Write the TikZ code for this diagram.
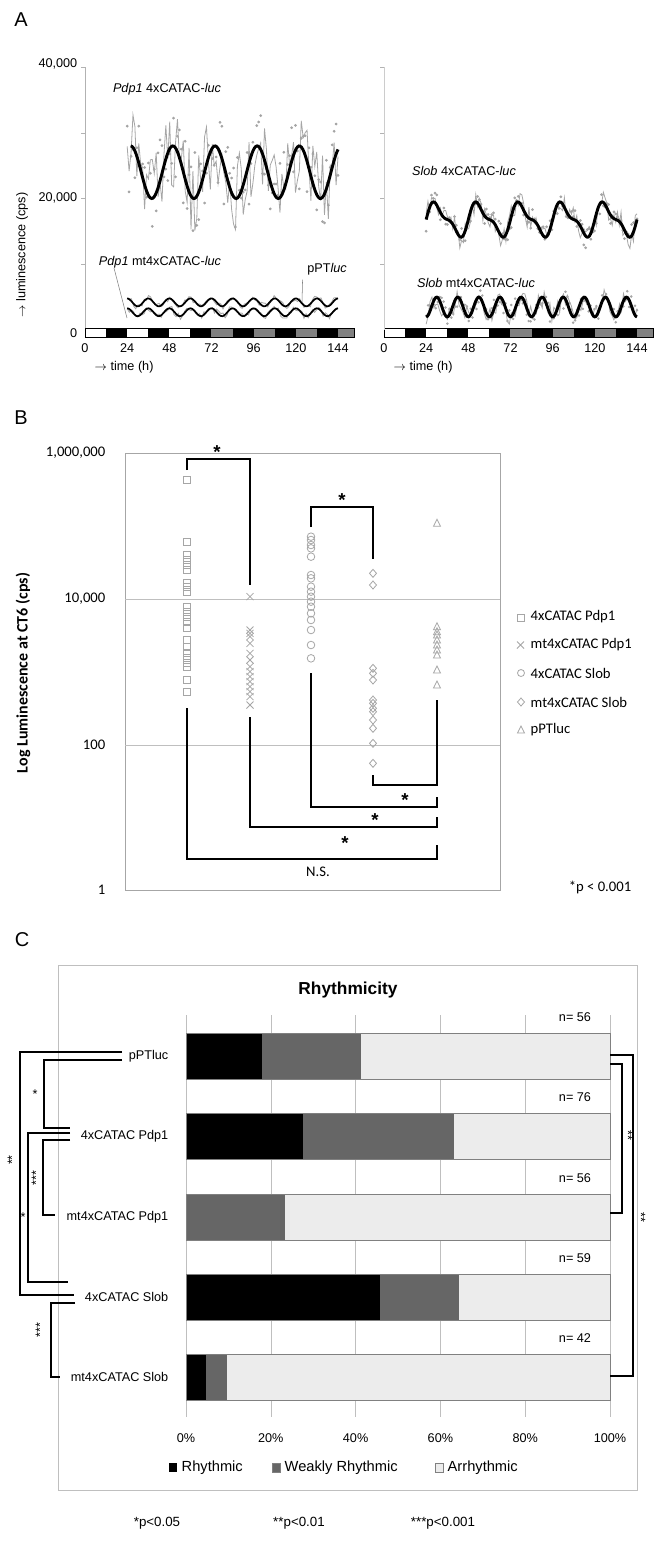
\documentclass[tikz,border=0pt]{standalone}
\usepackage{fontspec}
\setmainfont{Liberation Sans}
\newfontfamily\calib{Carlito}
\begin{document}
\begin{tikzpicture}[x=0.75pt,y=-0.75pt,
  lab/.style={font=\fontsize{15}{17}\selectfont},
  tx/.style={font=\fontsize{9.5}{11}\selectfont},
  fitc/.style={line width=2.2pt,black},
  dat/.style={gray!70,line width=0.6pt},
  br/.style={line width=1.6pt,black},
  bt/.style={font=\calib\fontsize{11}{13}\selectfont},
  ct/.style={font=\fontsize{9.5}{11}\selectfont},
  ]
\useasboundingbox (0,0) rectangle (661,1543);
\fill[white] (0,0) rectangle (661,1543);
\pgfmathsetseed{7}
% ================= A
\node[lab] (A) at (21,20) {A};
\draw[gray!60] (85,67) -- (85,330);
\foreach \y in {67,133,198,264} \draw[gray!60] (81,\y) -- (85,\y);
\node[tx,anchor=east] (y40) at (82,64) {40,000};
\node[tx,anchor=east] (y20) at (82,198) {20,000};
\node[tx,anchor=east] (y0) at (82,333) {0};
\node[tx,rotate=90] (yl) at (22,255) {$\rightarrow$ luminescence (cps)};
\foreach \X in {85,384}{
 \foreach \i/\c in {0/white,1/black,2/white,3/black,4/white,5/black,6/gray,7/black,8/gray,9/black,10/gray,11/black,12/gray}{
   \pgfmathsetmacro\xa{\X+\i*21.08}\pgfmathsetmacro\xb{min(\X+(\i+1)*21.08,\X+269)}
   \fill[\c] (\xa,328) rectangle (\xb,337);}
 \draw (\X,328) rectangle (\X+269,337);
 \foreach \t in {0,24,...,144}{\pgfmathsetmacro\xx{\X+1.757*\t}\node[tx] at (\xx,348) {\t};}
 \node[tx,anchor=west] at (\X+5,367) {$\rightarrow$ time (h)};
}
\draw[gray!40] (384,67) -- (384,330);
\foreach \y in {67,133,198,264} \draw[gray!60] (380,\y) -- (384,\y);
% Pdp1 4x
\draw[dat,mark=*,mark size=0.7pt,mark options={fill=gray}] plot[domain=24:144,samples=110]
 ({85+1.757*\x},{330-6.575*(24+3*cos(15*(\x-26))+rand*6)});
\draw[fitc] plot[domain=26:144,samples=160] ({85+1.757*\x},{330-6.575*(24+4*cos(15*(\x-26)))});
% mt curves
\draw[dat] plot[domain=24:144,samples=100] ({85+1.757*\x},{330-6.575*(4.2+0.6*sin(30*(\x-21))+rand*0.5)});
\draw[dat] plot[domain=24:144,samples=100] ({85+1.757*\x},{330-6.575*(2.7+0.6*sin(30*(\x-21))+rand*0.5)});
\draw[line width=1.3pt] plot[domain=24:144,samples=160] ({85+1.757*\x},{330-6.575*(4.2+0.6*sin(30*(\x-21)))});
\draw[line width=1.3pt] plot[domain=24:144,samples=160] ({85+1.757*\x},{330-6.575*(2.7+0.6*sin(30*(\x-21)))});
\node[tx] (t1) at (167,89) {\textit{Pdp1} 4xCATAC-\textit{luc}};
\node[tx] (t2) at (160,262) {\textit{Pdp1} mt4xCATAC-\textit{luc}};
\node[tx] (t3) at (327,269) {pPT\textit{luc}};
\coordinate (p2) at (127,318); \coordinate (p3) at (302,302);
\draw[gray,thin] (114,268) -- (p2);
\draw[gray,thin] (t3.south west) -- (p3);
% Slob 4x
\draw[dat,mark=*,mark size=0.7pt,mark options={fill=gray}] plot[domain=24:144,samples=120]
 ({384+1.757*\x},{330-6.575*(16.8+2.2*sin(15*(\x-24))+0.9*sin(30*(\x-24))+rand*1.8)});
\draw[fitc] plot[domain=24:144,samples=200] ({384+1.757*\x},{330-6.575*(16.8+2.2*sin(15*(\x-24))+0.9*sin(30*(\x-24)))});
% Slob mt
\draw[dat,mark=*,mark size=0.6pt,mark options={fill=gray}] plot[domain=24:144,samples=110]
 ({384+1.757*\x},{330-6.575*(3.5+1.2*sin(30*(\x-27))+rand*1.5)});
\draw[fitc] plot[domain=24:144,samples=200] ({384+1.757*\x},{330-6.575*(3.5+1.5*sin(30*(\x-27)))});
\node[tx] (t4) at (464,171) {\textit{Slob} 4xCATAC-\textit{luc}};
\node[tx] (t5) at (476,283) {\textit{Slob} mt4xCATAC-\textit{luc}};
% ================= B
\node[lab] (B) at (21,418) {B};
\draw[gray!70] (125,453) rectangle (500,890);
\draw[gray!50] (125,599) -- (500,599);
\draw[gray!50] (125,745) -- (500,745);
\node[bt,anchor=east] at (110,453) {1,000,000};
\node[bt,anchor=east] at (110,599) {10,000};
\node[bt,anchor=east] at (110,745) {100};
\node[bt,anchor=east] at (110,890) {1};
\node[font=\calib\bfseries\fontsize{12}{14}\selectfont,rotate=90] at (23,673) {Log Luminescence at CT6 (cps)};
\begin{scope}[gray!70,line width=0.6pt]
\foreach \p in {240,425,465,480,495,510,550,560,575,620,635,650,665,685,720,740,760,775,790,800,840,875}
  \draw (183.5,{\p/3+400-3.5}) rectangle ++(7,7);
\foreach \p in {590,690,700,710,730,760,780,800,815,830,845,860,875,890,915}
  \draw (246.5,{\p/3+400-3.5}) -- ++(7,7) (246.5,{\p/3+400+3.5}) -- ++(7,-7);
\foreach \p in {410,420,435,445,470,525,535,560,575,590,605,620,640,660,690,735,775}
  \draw (311,{\p/3+400}) circle (3.8);
\foreach \p in {520,555,805,820,840,900,910,925,935,960,985,1030,1090}
  \draw (373,{\p/3+400-4}) -- ++(3.5,4) -- ++(-3.5,4) -- ++(-3.5,-4) -- cycle;
\foreach \p in {370,680,695,705,720,735,750,765,810,855}
  \draw (437,{\p/3+400-4}) -- ++(3.5,7) -- ++(-7,0) -- cycle;
\end{scope}
\tikzset{st/.style={font=\bfseries\fontsize{14}{14}\selectfont}}
\draw[br] (187,470) -- (187,459) -- (250,459) -- (250,585);
\node[st] at (217,452) {*};
\draw[br] (311,527) -- (311,507) -- (373,507) -- (373,559);
\node[st] at (342,500) {*};
\draw[br] (373,775) -- (373,785) -- (437,785) -- (437,700);
\node[st] at (405,800) {*};
\draw[br] (311,673) -- (311,807) -- (437,807) -- (437,797);
\node[st] at (375,820) {*};
\draw[br] (250,717) -- (250,827) -- (437,827) -- (437,817);
\node[st] at (345,843) {*};
\draw[br] (187,708) -- (187,859) -- (437,859) -- (437,845);
\node[bt] at (318,872) {N.S.};
\node[bt] at (600,887) {*p < 0.001};
\begin{scope}[gray!70,line width=0.6pt]
\draw (517,614) rectangle ++(7,7);
\draw (517,641.5) -- ++(7,7) (517,648.5) -- ++(7,-7);
\draw (521,673) circle (3.5);
\draw (521,698) -- ++(3.5,4) -- ++(-3.5,4) -- ++(-3.5,-4) -- cycle;
\draw (521,726) -- ++(3.5,7) -- ++(-7,0) -- cycle;
\end{scope}
\node[bt,anchor=west] at (526,617) {4xCATAC Pdp1};
\node[bt,anchor=west] at (526,645) {mt4xCATAC Pdp1};
\node[bt,anchor=west] at (526,673) {4xCATAC Slob};
\node[bt,anchor=west] at (526,702) {mt4xCATAC Slob};
\node[bt,anchor=west] at (526,730) {pPTluc};
% ================= C
\node[lab] (C) at (22,940) {C};
\draw[gray!50] (58,965) rectangle (637,1490);
\node[font=\bfseries\fontsize{13}{15}\selectfont] at (348,990) {Rhythmicity};
\foreach \i in {0,...,5} \draw[gray!50] ({186+84.8*\i},1015) -- ({186+84.8*\i},1417);
\foreach \i/\l in {0/0\%,1/20\%,2/40\%,3/60\%,4/80\%,5/100\%} \node[ct] at ({186+84.8*\i},1438) {\l};
\foreach \y/\a/\b/\n/\name in {1033/18/41.2/56/pPTluc,1113/27.7/63.2/76/4xCATAC Pdp1,1194/0/23.3/56/mt4xCATAC Pdp1,1274/45.8/64.4/59/4xCATAC Slob,1354/4.8/9.6/42/mt4xCATAC Slob}{
  \fill[black] (186,\y) rectangle ({186+4.24*\a},\y+46);
  \fill[black!60] ({186+4.24*\a},\y) rectangle ({186+4.24*\b},\y+46);
  \fill[gray!15] ({186+4.24*\b},\y) rectangle (610,\y+46);
  \draw[gray] (186,\y) rectangle (610,\y+46);
  \node[ct] at (575,\y-16) {n= \n};
  \node[ct,anchor=east] at (173,\y+23) {\name};
}
\fill[black] (169,1463) rectangle ++(8,9);
\node[font=\fontsize{11}{13}\selectfont,anchor=west] at (177,1468) {Rhythmic};
\fill[black!60,draw=gray] (272,1463) rectangle ++(8,9);
\node[font=\fontsize{11}{13}\selectfont,anchor=west] at (280,1468) {Weakly Rhythmic};
\fill[gray!15,draw=gray] (435,1463) rectangle ++(8,9);
\node[font=\fontsize{11}{13}\selectfont,anchor=west] at (443,1468) {Arrhythmic};
\node[font=\fontsize{10}{12}\selectfont] at (157,1523) {*p<0.05};
\node[font=\fontsize{10}{12}\selectfont] at (299,1523) {**p<0.01};
\node[font=\fontsize{10}{12}\selectfont] at (443,1523) {***p<0.001};
\draw[br] (122,1052) -- (20,1052) -- (20,1295) -- (74,1295);
\node[ct,rotate=90] at (12,1160) {**};
\draw[br] (122,1060) -- (44,1060) -- (44,1128) -- (70,1128);
\node[ct] at (35,1094) {*};
\draw[br] (70,1133) -- (28,1133) -- (28,1282) -- (68,1282);
\node[ct] at (23,1217) {*};
\draw[br] (70,1140) -- (43,1140) -- (43,1215) -- (55,1215);
\node[ct,rotate=90] at (36,1178) {***};
\draw[br] (75,1303) -- (51,1303) -- (51,1377) -- (60,1377);
\node[ct,rotate=90] at (40,1330) {***};
\draw[br] (610,1055) -- (633,1055) -- (633,1376) -- (610,1376);
\node[ct,rotate=-90] at (641,1217) {**};
\draw[br] (610,1064) -- (622,1064) -- (622,1213) -- (610,1213);
\node[ct,rotate=-90] at (628,1135) {**};
\end{tikzpicture}
\end{document}
